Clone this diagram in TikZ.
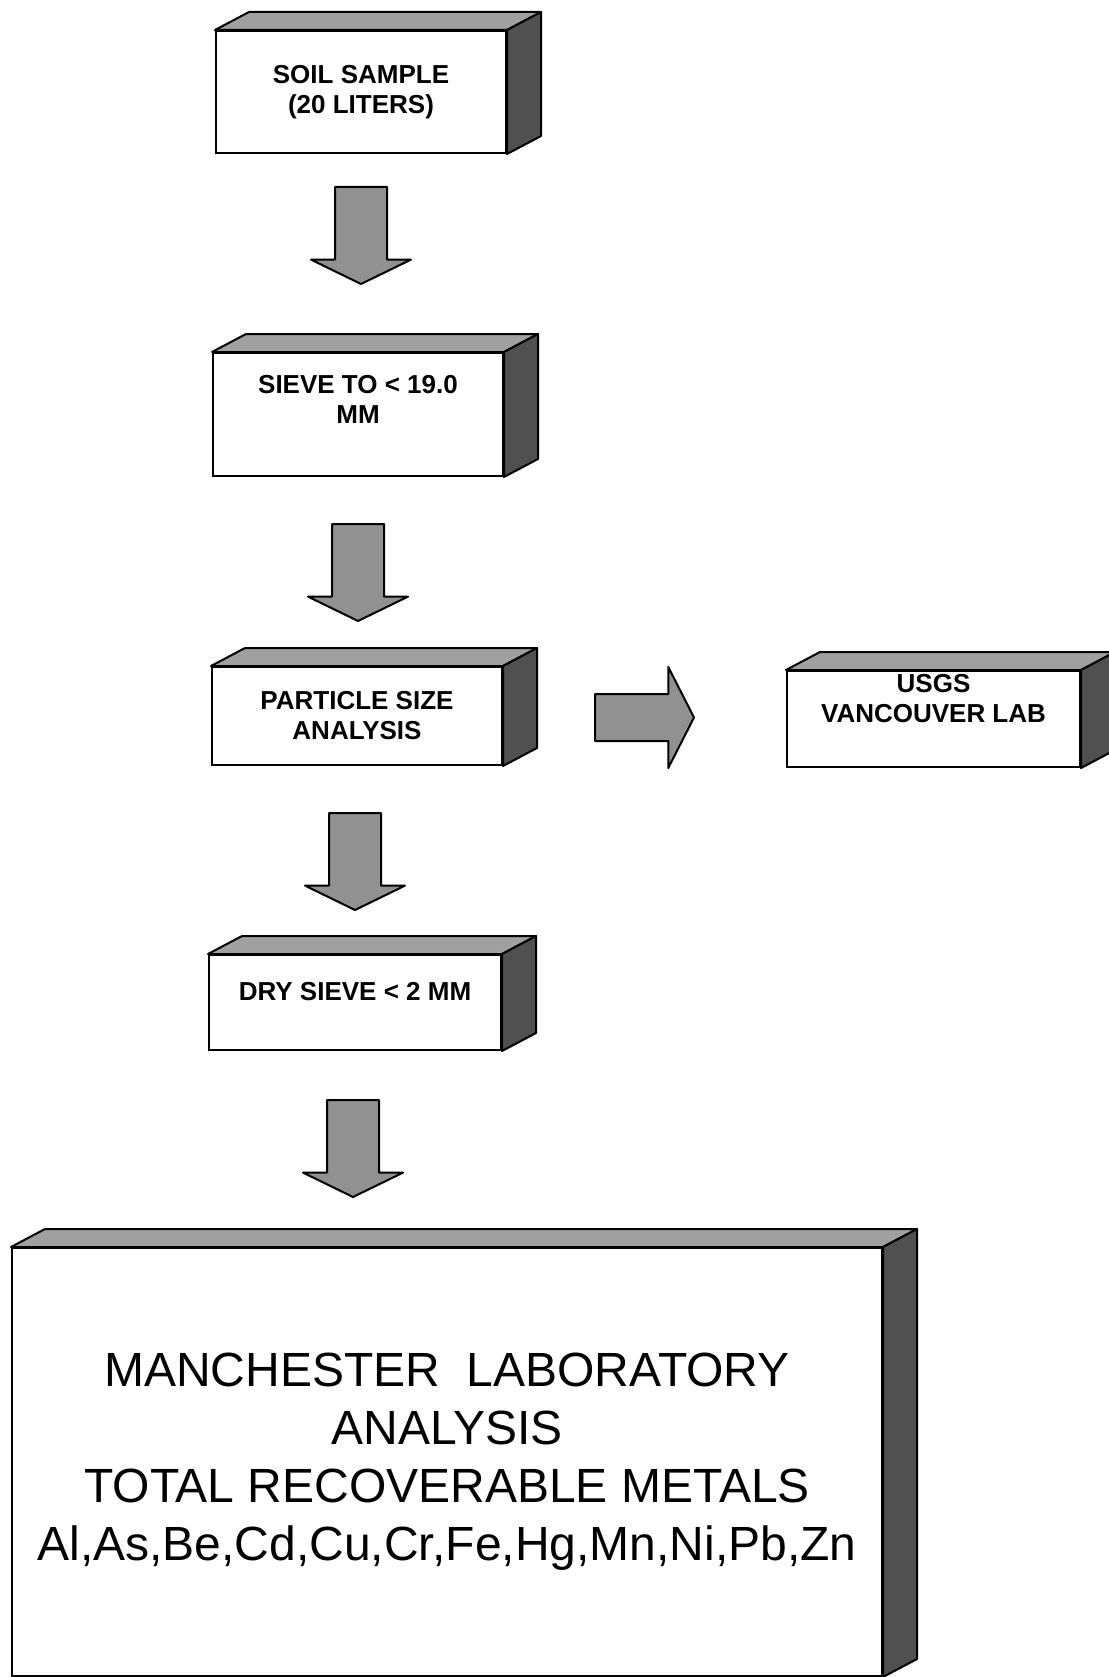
\documentclass[tikz,border=0pt]{standalone}
\usepackage{fontspec}
\setmainfont{Liberation Sans}
\usetikzlibrary{shapes.arrows}
\definecolor{FlowInk}{RGB}{0,0,0}
\definecolor{FlowTop}{RGB}{160,160,160}
\definecolor{FlowSide}{RGB}{80,80,80}
\definecolor{FlowArrow}{RGB}{145,145,145}
\tikzset{
  flow/box/.style={
    draw=FlowInk,
    line width=2pt,
    fill=white,
    align=center,
    inner sep=0pt,
    font=\fontsize{26}{30}\selectfont\bfseries
  },
  flow/bigbox/.style={
    flow/box,
    font=\fontsize{48}{58}\selectfont\mdseries
  },
  flow/top/.style={draw=FlowInk, line width=2pt, line join=round, fill=FlowTop},
  flow/side/.style={draw=FlowInk, line width=2pt, line join=round, fill=FlowSide},
  flow/arrow/.style={
    single arrow,
    anchor=tail,
    draw=FlowInk,
    line width=2pt,
    line join=round,
    fill=FlowArrow,
    inner xsep=0pt
  },
  flow/down/.style={
    flow/arrow,
    rotate=-90,
    inner ysep=25pt,
    single arrow head extend=24pt,
    single arrow tip angle=128,
    minimum width=98pt,
    minimum height=97pt
  },
  flow/right/.style={
    flow/arrow,
    inner ysep=22.5pt,
    single arrow head extend=27pt,
    single arrow tip angle=126,
    minimum width=99pt,
    minimum height=99pt
  }
}
\begin{document}
\begin{tikzpicture}[x=1pt,y=-1pt]
  \useasboundingbox (0,0) rectangle (1108,1677);
  \node[flow/box,minimum width=290pt,minimum height=122pt] (soil) at (361,92) {SOIL SAMPLE\\(20 LITERS)};
  \node[flow/box,minimum width=290pt,minimum height=123pt] (sieve) at (358,414.5) {SIEVE TO < 19.0\\MM\\\mbox{}};
  \node[flow/box,minimum width=290pt,minimum height=98pt] (particle) at (357,716) {PARTICLE SIZE\\ANALYSIS};
  \node[flow/box,minimum width=292pt,minimum height=95pt] (dry) at (355,1002.5) {DRY SIEVE < 2 MM\\[-8pt]\mbox{}};
  \node[flow/box,minimum width=293pt,minimum height=96pt] (usgs) at (933.5,719) {USGS\\VANCOUVER LAB\\[12pt]\mbox{}};
  \node[flow/bigbox,minimum width=870pt,minimum height=428pt] (lab) at (447,1462) {MANCHESTER\ \ LABORATORY\\ANALYSIS\\TOTAL RECOVERABLE METALS\\Al,As,Be,Cd,Cu,Cr,Fe,Hg,Mn,Ni,Pb,Zn};
  \foreach \b in {soil,sieve,particle,dry,usgs,lab}{
    \draw[flow/top] (\b.north west) -- ++(34,-18) -- ([shift={(34,-18)}]\b.north east) -- (\b.north east) -- cycle;
    \draw[flow/side] (\b.north east) -- ++(34,-18) -- ([shift={(34,-18)}]\b.south east) -- (\b.south east) -- cycle;
  }
  \node[flow/down] (down1) at (361,186) {};
  \node[flow/down] (down2) at (358,523) {};
  \node[flow/down] (down3) at (355,812) {};
  \node[flow/down] (down4) at (353,1099) {};
  \node[flow/right] (across) at (594,717.5) {};
\end{tikzpicture}
\end{document}
